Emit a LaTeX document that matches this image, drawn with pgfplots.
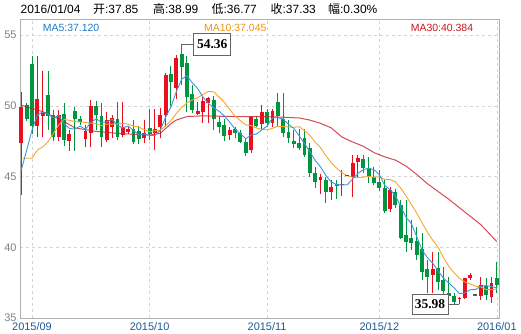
\documentclass[border=0pt]{standalone}
\usepackage{fontspec}
\setmainfont{Liberation Sans}
\newfontfamily\cjk{Noto Sans CJK SC}
\newfontfamily\serifb{Liberation Serif}
\usepackage{pgfplots}
\usepackage{pgfplotstable}
\pgfplotsset{compat=1.18}

\definecolor{cred}{RGB}{232,16,30}
\definecolor{cgreen}{RGB}{0,150,64}
\definecolor{cma5}{RGB}{60,150,222}
\definecolor{cma10}{RGB}{245,166,40}
\definecolor{cma30}{RGB}{200,30,40}
\definecolor{lma5}{RGB}{28,122,200}
\definecolor{lma10}{RGB}{235,150,20}
\definecolor{lma30}{RGB}{200,20,30}
\definecolor{cgrid}{RGB}{212,212,212}
\definecolor{cframe}{RGB}{175,175,175}
\definecolor{cytick}{RGB}{128,128,128}
\definecolor{cxtick}{RGB}{30,90,150}
\definecolor{cbox}{RGB}{100,100,100}
\definecolor{cdoji}{RGB}{90,90,90}

% up candles: i O H L C
\pgfplotstableread{
i O H L C
0 47.4 51.0 43.7 49.95
3 48.6 53.5 47.8 50.5
4 49.3 52.5 47.8 49.6
7 47.8 49.7 47.5 49.35
9 47.5 48.3 46.8 48.0
12 47.64 48.65 47.07 48.24
13 48.06 50.4 47.07 50.0
16 47.6 49.6 47.45 49.0
17 48.5 49.33 47.75 49.17
19 47.94 50.3 47.78 48.49
20 48.18 48.5 48.05 48.4
23 47.75 49.0 47.35 48.06
25 48.06 49.8 46.9 48.4
26 48.53 49.85 47.7 49.35
27 49.35 52.3 48.5 52.2
29 51.25 53.6 50.5 53.37
33 49.45 50.3 49.35 49.64
34 49.6 50.6 48.77 50.37
35 50.18 50.65 48.8 50.54
39 47.97 48.5 47.6 48.27
43 46.88 49.3 46.65 49.24
45 48.7 50.05 48.4 49.55
47 48.8 49.8 48.5 49.64
56 44.76 45.2 43.8 45.0
58 43.93 44.76 43.35 44.29
60 44.4 45.5 43.6 44.5
62 45.0 46.53 43.58 45.94
63 46.05 46.53 45.0 46.29
69 42.7 44.29 42.52 44.05
77 38.04 39.7 36.75 38.44
82 36.35 36.5 35.98 36.42
83 36.39 37.85 36.35 37.81
84 37.81 38.2 37.7 38.04
86 36.56 37.92 36.3 37.33
88 36.46 37.92 36.08 37.5
}\candR

% down candles: i O H L C
\pgfplotstableread{
i O H L C
1 50.1 50.2 48.9 49.1
2 53.0 53.5 48.0 48.6
5 50.8 52.5 48.3 49.3
6 49.35 49.7 47.5 47.8
8 49.4 50.2 47.2 47.6
10 49.64 49.95 46.8 49.05
11 49.05 49.3 48.65 48.84
14 50.0 50.37 48.3 49.33
15 49.28 50.18 47.1 47.78
18 49.1 50.27 47.6 47.82
21 48.4 49.0 47.3 47.47
22 48.24 48.6 47.3 47.64
24 48.46 49.76 47.6 48.0
28 52.23 52.8 50.0 51.7
30 53.67 54.36 51.5 52.77
31 53.07 53.53 49.6 50.66
32 50.85 51.5 49.5 49.7
36 50.4 50.7 48.3 49.1
37 48.88 49.3 48.06 48.5
38 48.65 49.1 47.5 47.9
40 48.37 48.5 47.7 48.06
41 48.1 48.3 47.35 47.45
42 47.47 47.7 46.45 46.7
44 49.1 49.3 48.5 48.6
46 49.6 49.8 48.5 48.77
48 50.3 50.95 48.49 49.3
49 49.1 50.95 47.82 48.1
50 48.15 49.0 47.35 47.7
51 47.52 48.3 47.0 47.3
52 47.4 48.4 46.88 47.05
53 47.75 48.4 46.4 46.53
54 47.0 47.35 45.0 45.23
55 45.23 45.7 44.2 44.64
57 44.76 45.0 43.15 43.93
59 44.45 44.76 43.4 44.33
64 46.22 46.53 45.23 45.6
65 45.59 46.41 44.52 45.05
66 45.0 45.7 44.4 44.55
67 44.64 45.5 44.0 44.2
68 44.2 44.76 42.4 42.55
70 43.93 44.1 42.8 42.99
71 42.99 43.35 40.56 40.64
72 40.87 43.35 39.7 40.4
73 40.64 41.93 39.81 40.29
74 40.47 41.46 39.1 39.46
75 39.9 40.99 37.69 38.27
76 38.44 39.1 36.75 37.92
78 38.51 39.7 36.98 37.57
79 37.69 38.63 36.7 36.91
80 36.75 37.92 36.15 36.56
81 36.56 36.75 36.0 36.15
87 37.26 37.81 36.3 36.63
89 37.85 38.99 36.77 37.33
}\candG

\pgfplotstableread{
i C
61 45.1
85 36.63
}\candD

\pgfplotstableread{
i ma5 ma10
0 45.47 46.3
1 46.88 46.3
2 48.3 46.3
3 49.36 46.88
4 49.55 47.1
5 49.42 47.47
6 49.16 48.06
7 49.31 48.65
8 48.73 49.05
9 48.41 48.98
10 48.36 48.89
11 48.57 48.87
12 48.35 48.83
13 48.83 48.78
14 49.09 48.75
15 48.84 48.6
16 48.87 48.72
17 49.06 48.71
18 48.62 48.73
19 48.45 48.77
20 48.58 48.71
21 48.27 48.57
22 47.96 48.51
23 48.01 48.32
24 47.91 48.18
25 47.91 48.25
26 48.29 48.28
27 49.2 48.58
28 49.93 48.97
29 51.0 49.46
30 51.88 49.9
31 52.14 50.22
32 51.64 50.42
33 51.23 50.58
34 50.63 50.82
35 50.18 51.03
36 49.87 51.0
37 49.63 50.64
38 49.28 50.26
39 48.86 49.75
40 48.37 49.28
41 48.04 48.96
42 47.68 48.66
43 47.94 48.61
44 48.01 48.44
45 48.31 48.34
46 48.57 48.31
47 49.16 48.42
48 49.17 48.56
49 49.07 48.54
50 48.7 48.51
51 48.41 48.49
52 47.89 48.53
53 47.34 48.26
54 46.76 47.92
55 46.15 47.43
56 45.69 47.05
57 45.07 46.48
58 44.62 45.98
59 44.44 45.6
60 44.41 45.28
61 44.43 45.06
62 44.83 44.95
63 45.23 44.93
64 45.49 44.97
65 45.6 45.01
66 45.49 44.96
67 45.14 44.99
68 44.39 44.81
69 44.08 44.79
70 43.67 44.64
71 42.89 44.19
72 42.13 43.64
73 41.67 43.03
74 40.76 42.42
75 39.81 41.74
76 39.27 41.08
77 38.88 40.51
78 38.33 40.0
79 37.82 39.29
80 37.48 38.65
81 37.13 38.2
82 36.72 37.8
83 36.77 37.55
84 37.0 37.41
85 37.01 37.25
86 37.25 37.19
87 37.29 37.01
88 37.23 37.0
89 37.12 37.045
}\matab

\pgfplotstableread{
i ma30
0 50.05
4 49.6
8 48.9
10 48.45
14 48.2
18 48.06
22 47.98
24 47.94
26 48.06
27 48.4
28 48.75
29 49.0
31 49.25
34 49.3
40 49.25
46 49.24
49 49.2
52 49.15
54 49.0
56 48.77
58 48.45
60 47.8
62 47.45
64 47.15
66 46.7
68 46.4
70 46.17
72 45.75
74 45.15
76 44.5
78 43.95
80 43.4
82 42.8
84 42.2
86 41.6
88 40.8
89 40.4
}\mathirty

\begin{document}
\begin{tikzpicture}
\useasboundingbox (0,0) rectangle (521bp,334bp);
% title line
\begin{scope}[every node/.style={anchor=west, inner sep=0pt, font=\fontsize{12}{14}\selectfont, text=black}]
\node at (20.5bp,325bp) {2016/01/04};
\node at (93bp,325bp) {{\cjk 开}:37.85};
\node at (153bp,325bp) {{\cjk 高}:38.99};
\node at (211.5bp,325bp) {{\cjk 低}:36.77};
\node at (270.5bp,325bp) {{\cjk 收}:37.33};
\node at (328bp,325bp) {{\cjk 幅}:0.30\%};
\end{scope}
\begin{axis}[
  at={(20bp,16bp)}, anchor=south west,
  width=479bp, height=299bp, scale only axis,
  xmin=-0.25, xmax=89.4, ymin=35, ymax=56.15,
  clip=false,
  axis line style={draw=cframe, line width=0.8bp},
  major tick length=0pt,
  xtick={2,24,46,67,89},
  xticklabels={2015/09,2015/10,2015/11,2015/12,2016/01},
  ytick={35,40,45,50,55},
  xmajorgrids, ymajorgrids,
  grid style={draw=cgrid, line width=0.7bp, dash pattern=on 3bp off 3bp},
  /pgf/number format/assume math mode=true,
  yticklabel style={text=cytick, font=\fontsize{11}{12}\selectfont},
  xticklabel style={text=cxtick, font=\fontsize{11}{12}\selectfont, yshift=-1bp},
]
% wicks
\addplot[draw=none, mark=none, forget plot, error bars/.cd, y dir=plus, y explicit, error mark=none,
  error bar style={draw=cred, line width=1bp}]
  table[x=i, y=L, y error expr=\thisrow{H}-\thisrow{L}] {\candR};
\addplot[draw=none, mark=none, forget plot, error bars/.cd, y dir=plus, y explicit, error mark=none,
  error bar style={draw=cgreen, line width=1bp}]
  table[x=i, y=L, y error expr=\thisrow{H}-\thisrow{L}] {\candG};
% bodies
\addplot[draw=none, mark=none, forget plot, error bars/.cd, y dir=plus, y explicit, error mark=none,
  error bar style={draw=cred, line width=3.9bp}]
  table[x=i, y=O, y error expr=\thisrow{C}-\thisrow{O}] {\candR};
\addplot[draw=none, mark=none, forget plot, error bars/.cd, y dir=plus, y explicit, error mark=none,
  error bar style={draw=cgreen, line width=3.9bp}]
  table[x=i, y=C, y error expr=\thisrow{O}-\thisrow{C}] {\candG};
% doji
\addplot[only marks, mark=-, mark size=2bp, mark options={draw=cdoji, line width=1.2bp}, forget plot]
  table[x=i, y=C] {\candD};
% moving averages
\addplot[cma30, line width=1bp, opacity=0.8, mark=none] table[x=i, y=ma30] {\mathirty};
\addplot[cma10, line width=0.9bp, mark=none] table[x=i, y=ma10] {\matab};
\addplot[cma5, line width=0.9bp, mark=none] table[x=i, y=ma5] {\matab};
% annotations
\draw[cbox, line width=0.8bp] (axis cs:30,54.36) -- (axis cs:32.2,54.36);
\node[draw=cbox, fill=white, line width=0.8bp, anchor=west, inner sep=0pt,
  minimum width=37bp, minimum height=22bp,
  font=\serifb\bfseries\fontsize{13.5}{14}\selectfont] at (axis cs:32.2,54.36) {54.36};
\draw[cbox, line width=0.8bp] (axis cs:82,35.98) -- (axis cs:79.92,35.98);
\node[draw=cbox, fill=white, line width=0.8bp, anchor=east, inner sep=0pt,
  minimum width=36bp, minimum height=20bp,
  font=\serifb\bfseries\fontsize{13.5}{14}\selectfont] at (axis cs:79.92,35.98) {35.98};
\end{axis}
% MA labels
\begin{scope}[every node/.style={anchor=west, inner sep=0pt, font=\fontsize{10.5}{12}\selectfont}]
\node[text=lma5] at (42.7bp,306.5bp) {MA5:37.120};
\node[text=lma10] at (204bp,306.5bp) {MA10:37.045};
\node[text=lma30] at (410.7bp,306.5bp) {MA30:40.384};
\end{scope}
\end{tikzpicture}
\end{document}
